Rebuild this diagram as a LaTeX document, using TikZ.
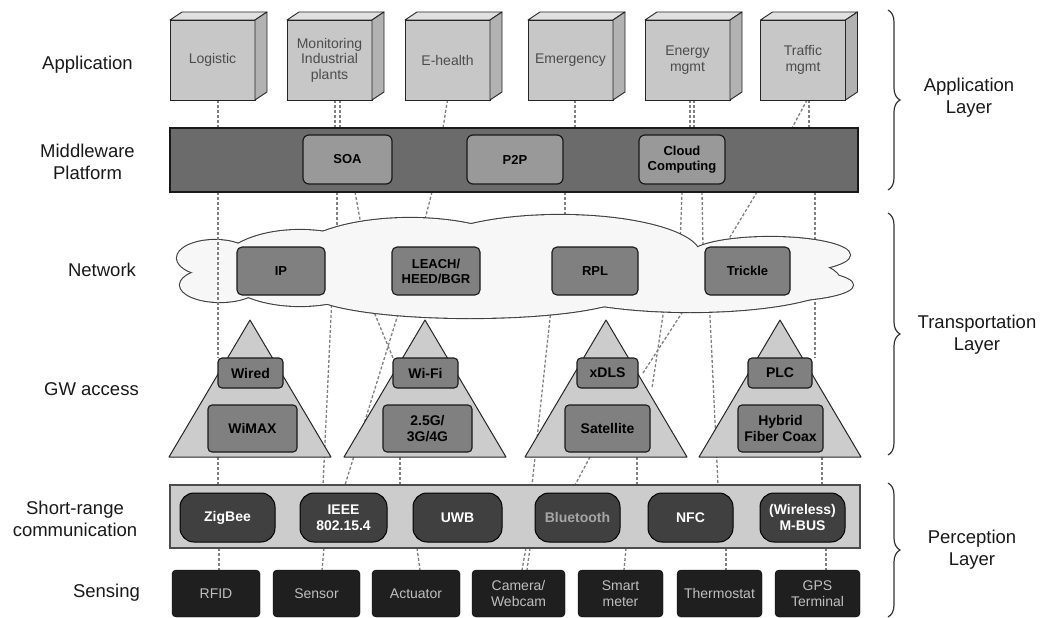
\documentclass[tikz,border=0pt]{standalone}
\usepackage{fontspec}
\setmainfont{Liberation Sans}
\usetikzlibrary{decorations.pathreplacing}
\pgfdeclarelayer{bg}
\pgfdeclarelayer{mid}
\pgfsetlayers{bg,mid,main}
\begin{document}
\begin{tikzpicture}[x=1pt,y=-1pt,
  every node/.style={outer sep=0pt},
  lbl/.style={font=\fontsize{18.5}{22}\selectfont, align=center, text=black!90},
  appbox/.style={draw=black!85, line width=0.9pt, fill=black!22, minimum width=85pt, minimum height=80pt, font=\fontsize{14}{15.5}\selectfont, text=black!70, align=center, inner sep=1pt},
  appface/.style={draw=black!85, line width=0.9pt, fill=black!12, line join=round},
  appside/.style={draw=black!85, line width=0.9pt, fill=black!30, line join=round},
  mwbar/.style={draw=black!90, line width=1.2pt, fill=black!58, minimum width=688pt, minimum height=64pt},
  mwin/.style={draw=black!90, line width=1.2pt, fill=black!40, rounded corners=6pt, minimum height=49pt, font=\bfseries\fontsize{13}{15}\selectfont, align=center},
  netbox/.style={draw=black!90, line width=1.1pt, fill=black!50, rounded corners=5pt, minimum height=48pt, font=\bfseries\fontsize{13}{15}\selectfont, align=center},
  tri/.style={draw=black!85, line width=1pt, fill=black!20, line join=round},
  gwbox/.style={draw=black!90, line width=1.1pt, fill=black!50, rounded corners=4pt, font=\bfseries\fontsize{14}{16}\selectfont, align=center},
  srbar/.style={draw=black!70, line width=1.2pt, fill=black!20, minimum width=690pt, minimum height=63pt},
  pill/.style={draw=black, line width=1pt, fill=black!75, rounded corners=14pt, minimum height=49pt, font=\bfseries\fontsize{14}{16}\selectfont, text=white, align=center},
  sensbox/.style={draw=black, fill=black!88, rounded corners=4pt, minimum height=47pt, font=\fontsize{14}{15.5}\selectfont, text=black!25, align=center},
  dl/.style={draw=black!50, line width=1.3pt, dash pattern=on 3pt off 2pt},
  cloudline/.style={draw=black!75, line width=2.2pt},
  brc/.style={draw=black!80, line width=1.2pt, decorate, decoration={brace, amplitude=12pt}}
]
\useasboundingbox (0,0) rectangle (1057,618);

% triangle coordinates
\coordinate (t1) at (250,320); \coordinate (b1) at (250,457);
\coordinate (t2) at (425,320); \coordinate (b2) at (425,457);
\coordinate (t3) at (606,320); \coordinate (b3) at (606,457);
\coordinate (t4) at (780,320); \coordinate (b4) at (780,457);

% left labels
\node[lbl] (lapp) at (87.5,65) {Application};
\node[lbl] (lmw) at (87.5,162) {Middleware\\Platform};
\node[lbl] (lnet) at (102,270) {Network};
\node[lbl] (lgw) at (91.5,389) {GW access};
\node[lbl] (lsr) at (75,519) {Short-range\\communication};
\node[lbl] (lsen) at (106.5,593) {Sensing};

% right labels
\node[lbl] (rapp) at (969,98) {Application\\Layer};
\node[lbl] (rtr) at (977,335) {Transportation\\Layer};
\node[lbl] (rper) at (972,550) {Perception\\Layer};
\draw[brc] (888,10) -- (888,190);
\draw[brc] (888,213) -- (888,455);
\draw[brc] (888,483) -- (888,617);

% application boxes
\node[appbox] (app1) at (212.5,60) {Logistic};
\node[appbox] (app2) at (329.5,60) {Monitoring\\Industrial\\plants};
\node[appbox] (app3) at (447.5,60) {E-health};
\node[appbox] (app4) at (570.5,60) {Emergency};
\node[appbox] (app5) at (687.5,60) {Energy\\mgmt};
\node[appbox] (app6) at (803,60) {Traffic\\mgmt};
\foreach \n in {app1,app2,app3,app4,app5,app6} {
  \filldraw[appface] (\n.north west) -- ++(12,-8) -- ([shift={(12,-8)}]\n.north east) -- (\n.north east) -- cycle;
  \filldraw[appside] (\n.north east) -- ++(12,-8) -- ([shift={(12,-8)}]\n.south east) -- (\n.south east) -- cycle;
}

% middleware
\node[mwbar] (mw) at (514,160) {};
\node[mwin, minimum width=89pt] (soa) at (347.5,159.5) {SOA};
\node[mwin, minimum width=96pt] (p2p) at (515,159.5) {P2P};
\node[mwin, minimum width=86pt] (cc) at (682,159.5) {Cloud\\Computing};

% network boxes
\node[netbox, minimum width=88pt] (ip) at (281,271) {IP};
\node[netbox, minimum width=88pt] (leach) at (436,271) {LEACH/\\HEED/BGR};
\node[netbox, minimum width=86pt] (rpl) at (595,271) {RPL};
\node[netbox, minimum width=85pt] (trickle) at (747.5,271) {Trickle};

% gateway boxes
\node[gwbox, minimum width=65pt, minimum height=30pt] (wired) at (250.5,373) {Wired};
\node[gwbox, minimum width=65pt, minimum height=30pt] (wifi) at (425.5,373) {Wi-Fi};
\node[gwbox, minimum width=61pt, minimum height=30pt] (xdls) at (607.5,373) {xDLS};
\node[gwbox, minimum width=64pt, minimum height=30pt] (plc) at (780,373) {PLC};
\node[gwbox, minimum width=89pt, minimum height=47pt] (wimax) at (252.5,428.5) {WiMAX};
\node[gwbox, minimum width=89pt, minimum height=47pt] (g3) at (427.5,428.5) {2.5G/\\3G/4G};
\node[gwbox, minimum width=85pt, minimum height=47pt] (sat) at (607.5,428.5) {Satellite};
\node[gwbox, minimum width=85pt, minimum height=47pt] (hfc) at (780.5,428.5) {Hybrid\\Fiber Coax};

% short-range
\node[srbar] (sr) at (515,516.5) {};
\node[pill, minimum width=95pt] (zig) at (227.5,517.5) {ZigBee};
\node[pill, minimum width=87pt] (ieee) at (343.5,517.5) {IEEE\\802.15.4};
\node[pill, minimum width=89pt] (uwb) at (457.5,517.5) {UWB};
\node[pill, minimum width=85pt, text=black!35] (bt) at (577.5,517.5) {Bluetooth};
\node[pill, minimum width=85pt] (nfc) at (690.5,517.5) {NFC};
\node[pill, minimum width=85pt] (mbus) at (802.5,517.5) {(Wireless)\\M-BUS};

% sensing
\node[sensbox, minimum width=88pt] (rfid) at (216,593.5) {RFID};
\node[sensbox, minimum width=87pt] (sensor) at (316.5,593.5) {Sensor};
\node[sensbox, minimum width=88pt] (act) at (416,593.5) {Actuator};
\node[sensbox, minimum width=93pt] (cam) at (518.5,593.5) {Camera/\\Webcam};
\node[sensbox, minimum width=85pt] (smart) at (620.5,593.5) {Smart\\meter};
\node[sensbox, minimum width=85pt] (thermo) at (719.5,593.5) {Thermostat};
\node[sensbox, minimum width=85pt] (gps) at (817.5,593.5) {GPS\\Terminal};

% cloud and triangles
\begin{pgfonlayer}{mid}
\foreach \cx/\cy/\rx/\ry in {215/258/38/18, 220/285/40/17, 300/268/80/38, 410/262/120/44, 560/255/140/40, 470/292/160/26, 690/280/150/32, 770/255/80/18, 775/285/78/16}
  \draw[cloudline] (\cx,\cy) ellipse [x radius=\rx pt, y radius=\ry pt];
\foreach \cx/\cy/\rx/\ry in {215/258/38/18, 220/285/40/17, 300/268/80/38, 410/262/120/44, 560/255/140/40, 470/292/160/26, 690/280/150/32, 770/255/80/18, 775/285/78/16}
  \fill[black!3] (\cx,\cy) ellipse [x radius=\rx pt, y radius=\ry pt];
\foreach \i in {1,2,3,4}
  \filldraw[tri] (t\i) -- ([xshift=-81pt]b\i) -- ([xshift=81pt]b\i) -- cycle;
\draw[dl] ([xshift=5.5pt]app1.south |- mw.south) -- ([xshift=5.5pt]app1.south |- wired.north);
\end{pgfonlayer}

% dashed connectors
\begin{pgfonlayer}{bg}
\draw[dl] ([xshift=5.5pt]app1.south) -- ([xshift=5.5pt]app1.south |- mw.north);
\draw[dl] ([xshift=5.5pt]app2.south) -- ([xshift=5.5pt]app2.south |- mw.north);
\draw[dl] ([xshift=10.5pt]app2.south) -- ([xshift=10.5pt]app2.south |- mw.north);
\draw[dl] (app3.south) -- ([xshift=-4.5pt]app3.south |- mw.north);
\draw[dl] ([xshift=4.5pt]app4.south) -- ([xshift=4.5pt]app4.south |- mw.north);
\draw[dl] ([xshift=2.5pt]app5.south) -- ([xshift=2.5pt]app5.south |- mw.north);
\draw[dl] ([xshift=6.5pt]app5.south) -- ([xshift=6.5pt]app5.south |- mw.north);
\draw[dl] ([xshift=4pt]app6.south) -- ([xshift=-11pt]app6.south |- mw.north);
\draw[dl] ([xshift=6pt]app6.south) -- ([xshift=6pt]app6.south |- mw.north);
% middleware to network
\draw[dl] ([xshift=-10.5pt]soa.south |- mw.south) -- ([xshift=-10.5pt]soa.south |- ip.north);
\draw[dl] ([xshift=7.5pt]soa.south |- mw.south) -- ([xshift=17.5pt]soa.south |- ip.north);
\draw[dl] ([xshift=-4pt]leach.north |- mw.south) -- ([xshift=-18pt]leach.north);
\draw[dl] ([xshift=50pt]p2p.south |- mw.south) -- ([xshift=50pt]p2p.south |- ip.north);
\draw[dl] (cc.south |- mw.south) -- ([xshift=-2pt]cc.south |- ip.north);
\draw[dl] ([xshift=20pt]cc.south |- mw.south) -- ([xshift=21pt]cc.south |- ip.north);
\draw[dl] ([xshift=75pt]cc.south |- mw.south) -- ([xshift=42pt]cc.south |- ip.north);
\draw[dl] ([xshift=35pt]plc.north |- mw.south) -- ([xshift=35pt]plc.north);
% network to gateways / short-range
\draw[dl] ([xshift=51pt]ip.south) -- ([xshift=-20.5pt]ieee.north |- sr.north);
\draw[dl] ([xshift=-69pt]leach.south) -- (wifi.north west);
\draw[dl] ([xshift=-32pt]leach.south) -- ([xshift=1.5pt]ieee.north |- sr.north);
\draw[dl] ([xshift=-25pt]b2) -- ([xshift=-25pt]b2 |- sr.north);
\draw[dl] ([xshift=-32pt]b1) -- ([xshift=-32pt]b1 |- sr.north);
\draw[dl] ([xshift=-42.5pt]rpl.south) -- ([xshift=-45.5pt]bt.north |- sr.north);
\draw[dl] ([xshift=71pt]rpl.south) -- ([xshift=44.5pt]xdls.south);
\draw[dl] ([xshift=98.5pt]rpl.south) -- ([xshift=5pt]xdls.east);
\draw[dl] ([xshift=-38.5pt]trickle.south) -- ([xshift=27.5pt]nfc.north |- sr.north);
\draw[dl] ([xshift=42pt]b4) -- ([xshift=42pt]b4 |- sr.north);
\draw[dl] ([xshift=-16pt]b3) -- ([xshift=-2.5pt]bt.north |- sr.north);
\draw[dl] ([xshift=31pt]b3) -- ([xshift=31pt]b3 |- sr.north);
% short-range to sensing
\draw[dl] ([xshift=3pt]rfid.north |- sr.south) -- ([xshift=3pt]rfid.north);
\draw[dl] ([xshift=7.5pt]sensor.north |- sr.south) -- ([xshift=5.5pt]sensor.north);
\draw[dl] ([xshift=1pt]act.north |- sr.south) -- ([xshift=4pt]act.north);
\draw[dl] ([xshift=7.5pt]cam.north |- sr.south) -- ([xshift=3.5pt]cam.north);
\draw[dl] ([xshift=11.5pt]cam.north |- sr.south) -- ([xshift=8.5pt]cam.north);
\draw[dl] ([xshift=5.5pt]smart.north |- sr.south) -- ([xshift=3.5pt]smart.north);
\draw[dl] ([xshift=6.5pt]thermo.north |- sr.south) -- ([xshift=6.5pt]thermo.north);
\draw[dl] ([xshift=8.5pt]gps.north |- sr.south) -- ([xshift=8.5pt]gps.north);
\end{pgfonlayer}
\end{tikzpicture}
\end{document}
